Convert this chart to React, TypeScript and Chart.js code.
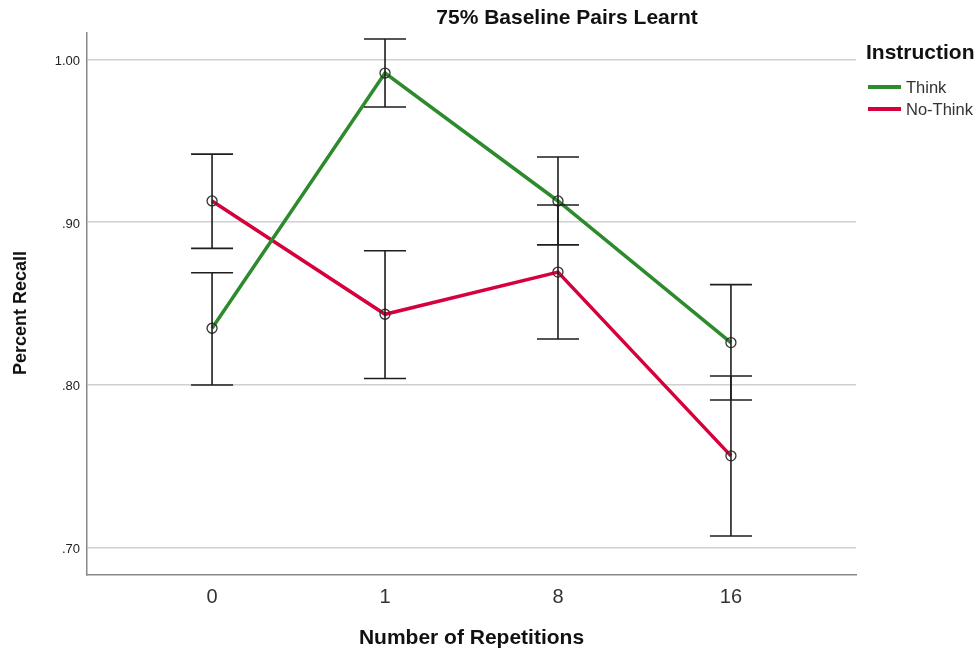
import React, { useEffect, useRef } from "react";
import { Chart, registerables } from "chart.js";

Chart.register(...registerables);

const categories = ["0", "1", "8", "16"];
const seriesNames = ["Think", "No-Think"];
const thinkMean = [0.8348, 0.9916, 0.913, 0.826];
const thinkLow = [0.7999, 0.9707, 0.886, 0.7907];
const thinkHigh = [0.8689, 1.0125, 0.94, 0.8616];
const noThinkMean = [0.913, 0.8434, 0.8693, 0.7564];
const noThinkLow = [0.8839, 0.8039, 0.8282, 0.7072];
const noThinkHigh = [0.9418, 0.8824, 0.9105, 0.8055];
const yTicks = [0.7, 0.8, 0.9, 1.0];
const yTickLabels = [".70", ".80", ".90", "1.00"];

const titleText = "75% Baseline Pairs Learnt";
const xTitle = "Number of Repetitions";
const yTitle = "Percent Recall";
const legendTitle = "Instruction";

const GREEN = "#2d8a2d";
const RED = "#d6003c";
const FONT = "'Liberation Sans', Arial, sans-serif";

export default function App() {
  const ref = useRef<HTMLCanvasElement | null>(null);

  useEffect(() => {
    if (!ref.current) return;
    const lows = [thinkLow, noThinkLow];
    const highs = [thinkHigh, noThinkHigh];

    const errorBars = {
      id: "errorBars",
      afterDatasetsDraw(chart: any) {
        const ctx = chart.ctx;
        const xs = chart.scales.x;
        const ys = chart.scales.y;
        ctx.save();
        ctx.strokeStyle = "#1e1e1e";
        ctx.lineWidth = 1.6;
        for (let d = 0; d < 2; d++) {
          for (let i = 0; i < categories.length; i++) {
            const x = xs.getPixelForValue(i);
            const y1 = ys.getPixelForValue(lows[d][i]);
            const y2 = ys.getPixelForValue(highs[d][i]);
            ctx.beginPath();
            ctx.moveTo(x, y1);
            ctx.lineTo(x, y2);
            ctx.moveTo(x - 21, y1);
            ctx.lineTo(x + 21, y1);
            ctx.moveTo(x - 21, y2);
            ctx.lineTo(x + 21, y2);
            ctx.stroke();
          }
        }
        ctx.restore();
      },
      afterDraw(chart: any) {
        const ctx = chart.ctx;
        ctx.save();
        ctx.fillStyle = "#111";
        ctx.textBaseline = "middle";
        ctx.textAlign = "center";
        ctx.font = `bold 21px ${FONT}`;
        ctx.fillText(titleText, 567, 18);
        ctx.fillText(xTitle, 471.5, 638);
        ctx.save();
        ctx.translate(21, 313);
        ctx.rotate(-Math.PI / 2);
        ctx.font = `bold 18px ${FONT}`;
        ctx.fillText(yTitle, 0, 0);
        ctx.restore();
        // legend
        ctx.textAlign = "left";
        ctx.font = `bold 21px ${FONT}`;
        ctx.fillText(legendTitle, 866, 53);
        const cols = [GREEN, RED];
        const ys = [87, 109];
        ctx.font = `16.5px ${FONT}`;
        for (let k = 0; k < 2; k++) {
          ctx.strokeStyle = cols[k];
          ctx.lineWidth = 4;
          ctx.beginPath();
          ctx.moveTo(868, ys[k]);
          ctx.lineTo(901, ys[k]);
          ctx.stroke();
          ctx.fillStyle = "#333";
          ctx.fillText(seriesNames[k], 906, ys[k] + 1);
        }
        ctx.restore();
      },
    };

    const chart = new Chart(ref.current, {
      type: "line",
      data: {
        datasets: [
          {
            label: seriesNames[0],
            data: thinkMean.map((v, i) => ({ x: i, y: v })),
            borderColor: GREEN,
            borderWidth: 3.5,
            pointRadius: 5,
            pointBorderColor: "#333",
            pointBorderWidth: 1.3,
            pointBackgroundColor: "rgba(0,0,0,0)",
          },
          {
            label: seriesNames[1],
            data: noThinkMean.map((v, i) => ({ x: i, y: v })),
            borderColor: RED,
            borderWidth: 3.5,
            pointRadius: 5,
            pointBorderColor: "#333",
            pointBorderWidth: 1.3,
            pointBackgroundColor: "rgba(0,0,0,0)",
          },
        ],
      },
      options: {
        animation: false,
        responsive: false,
        devicePixelRatio: 1,
        layout: { padding: { left: 0, right: 122, top: 33, bottom: 0 } },
        plugins: { legend: { display: false }, title: { display: false }, tooltip: { enabled: false } },
        scales: {
          x: {
            type: "linear",
            min: -0.723,
            max: 3.723,
            afterBuildTicks: (s: any) => {
              s.ticks = categories.map((_, i) => ({ value: i }));
            },
            afterFit: (s: any) => {
              s.height = 78;
            },
            grid: { display: false, drawTicks: false },
            border: { display: true, color: "#888", width: 1.5 },
            ticks: {
              callback: (v: any) => categories[Math.round(Number(v))] ?? "",
              font: { family: FONT, size: 20 },
              color: "#333",
              padding: 10,
              maxRotation: 0,
            },
          },
          y: {
            min: 0.6832,
            max: 1.0162,
            afterBuildTicks: (s: any) => {
              s.ticks = yTicks.map((v) => ({ value: v }));
            },
            afterFit: (s: any) => {
              s.width = 87;
            },
            grid: { color: "#d0d0d0", lineWidth: 1.5, drawTicks: false },
            border: { display: true, color: "#888", width: 1.5 },
            ticks: {
              callback: (v: any) => {
                const idx = yTicks.findIndex((t) => Math.abs(t - Number(v)) < 1e-6);
                return idx >= 0 ? yTickLabels[idx] : "";
              },
              font: { family: FONT, size: 13 },
              color: "#222",
              padding: 7,
              labelOffset: 2,
            },
          },
        },
      },
      plugins: [errorBars],
    } as any);
    return () => chart.destroy();
  }, []);

  return (
    <div style={{ position: "fixed", left: 0, top: 0, width: 978, height: 653, background: "#fff" }}>
      <canvas ref={ref} width={978} height={653} style={{ width: 978, height: 653 }} />
    </div>
  );
}
